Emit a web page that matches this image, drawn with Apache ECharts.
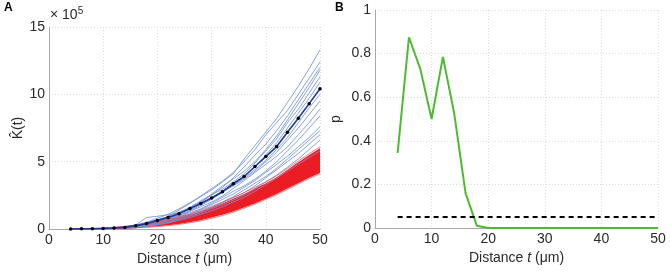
<!DOCTYPE html>
<html>
<head>
<meta charset="utf-8">
<script src="https://cdn.jsdelivr.net/npm/echarts@6/dist/echarts.min.js"></script>
<style>
  html, body { margin: 0; padding: 0; background: #fff; }
  #main { width: 670px; height: 273px; }
</style>
</head>
<body>
<div id="main"></div>
<script>
// ---------- 数据 ----------
// 距离 t (μm)
var distT = [4, 6, 8, 10, 12, 14, 16, 18, 20, 22, 24, 26, 28, 30, 32, 34, 36, 38, 40, 42, 44, 46, 48, 50];

// A: K(t) 平均线 (x 10^5)
var meanK = [0, 0.01, 0.02, 0.04, 0.07, 0.12, 0.25, 0.4, 0.64, 0.86, 1.14, 1.53, 1.9, 2.3, 2.77, 3.36, 3.9, 4.64, 5.38, 6.12, 7.19, 8.22, 9.31, 10.42];

// A: 各条蓝色曲线
var blueK1 = [0, 0.01, 0.02, 0.05, 0.09, 0.15, 0.3, 0.5, 0.8, 1.1, 1.5, 1.95, 2.4, 2.9, 3.5, 4.1, 5.2, 6.2, 7.2, 8.2, 9.4, 10.6, 11.9, 13.3];
var blueK2 = [0, 0.01, 0.02, 0.04, 0.07, 0.11, 0.2, 0.35, 0.6, 0.95, 1.4, 1.9, 2.45, 3.0, 3.55, 4.2, 5.0, 5.9, 7.0, 7.9, 8.8, 10.0, 11.2, 12.4];
var blueK3 = [0, 0.01, 0.03, 0.05, 0.08, 0.14, 0.25, 0.45, 0.7, 0.9, 1.2, 1.6, 2.0, 2.5, 3.1, 3.8, 4.6, 5.5, 6.3, 7.3, 8.4, 9.6, 10.8, 12.0];
var blueK4 = [0, 0.01, 0.02, 0.03, 0.06, 0.1, 0.15, 0.3, 0.55, 0.8, 1.15, 1.5, 1.95, 2.6, 3.2, 3.7, 4.3, 5.0, 5.9, 6.9, 8.1, 9.3, 10.5, 11.8];
var blueK5 = [0, 0.01, 0.02, 0.04, 0.08, 0.12, 0.2, 0.4, 0.65, 0.95, 1.25, 1.6, 2.1, 2.55, 2.95, 3.5, 4.1, 4.9, 5.8, 6.7, 7.9, 8.9, 10.1, 11.3];
var blueK6 = [0, 0.01, 0.02, 0.05, 0.12, 0.18, 0.3, 0.85, 0.95, 1.05, 1.2, 1.45, 1.85, 2.3, 2.8, 3.3, 3.9, 4.6, 5.5, 6.4, 7.5, 8.6, 9.7, 10.9];
var blueK7 = [0, 0.01, 0.02, 0.04, 0.06, 0.1, 0.2, 0.3, 0.5, 0.75, 1.0, 1.35, 1.75, 2.2, 2.7, 3.25, 3.8, 4.4, 5.1, 5.9, 6.8, 7.9, 9.0, 10.0];
var blueK8 = [0, 0.01, 0.02, 0.03, 0.05, 0.09, 0.15, 0.3, 0.55, 0.8, 1.05, 1.4, 1.85, 2.35, 2.8, 3.2, 3.7, 4.3, 5.0, 5.7, 6.6, 7.5, 8.5, 9.5];
var blueK9 = [0, 0.01, 0.03, 0.05, 0.09, 0.14, 0.2, 0.35, 0.5, 0.7, 0.95, 1.3, 1.65, 2.0, 2.45, 3.0, 3.6, 4.2, 4.8, 5.4, 6.1, 7.0, 7.9, 8.9];
var blueK10 = [0, 0.01, 0.02, 0.04, 0.06, 0.1, 0.15, 0.25, 0.45, 0.65, 0.9, 1.2, 1.5, 1.9, 2.35, 2.8, 3.2, 3.7, 4.3, 5.0, 5.8, 6.6, 7.5, 8.4];
var blueK11 = [0, 0.01, 0.02, 0.03, 0.05, 0.08, 0.1, 0.25, 0.4, 0.6, 0.85, 1.1, 1.45, 1.8, 2.2, 2.6, 3.1, 3.6, 4.2, 4.8, 5.4, 6.1, 6.8, 7.6];
var blueK12 = [0, 0.01, 0.02, 0.04, 0.07, 0.1, 0.15, 0.3, 0.45, 0.65, 0.85, 1.05, 1.3, 1.6, 2.0, 2.4, 2.9, 3.4, 3.9, 4.5, 5.2, 5.9, 6.6, 7.3];
var blueK13 = [0, 0.01, 0.02, 0.03, 0.05, 0.07, 0.1, 0.2, 0.35, 0.55, 0.75, 1.0, 1.3, 1.6, 1.95, 2.3, 2.7, 3.2, 3.8, 4.4, 5.0, 5.6, 6.3, 7.0];
var blueK14 = [0, 0.01, 0.02, 0.03, 0.05, 0.07, 0.1, 0.2, 0.35, 0.5, 0.7, 0.95, 1.2, 1.5, 1.8, 2.15, 2.55, 3.0, 3.5, 4.0, 4.6, 5.2, 5.9, 6.6];
var blueK15 = [0, 0.01, 0.02, 0.03, 0.04, 0.06, 0.1, 0.2, 0.3, 0.45, 0.65, 0.85, 1.1, 1.35, 1.65, 2.0, 2.35, 2.8, 3.3, 3.8, 4.3, 4.8, 5.3, 5.8];

// A: 红色模拟带 (下界 / 上界)
var redLow = [0, 0, 0.01, 0.02, 0.04, 0.07, 0.1, 0.14, 0.2, 0.28, 0.38, 0.5, 0.65, 0.85, 1.05, 1.3, 1.6, 1.9, 2.25, 2.6, 3.0, 3.4, 3.8, 4.15];
var redHigh = [0, 0.02, 0.04, 0.07, 0.12, 0.18, 0.26, 0.36, 0.5, 0.66, 0.84, 1.05, 1.3, 1.6, 1.9, 2.25, 2.6, 3.0, 3.4, 3.85, 4.4, 4.95, 5.5, 6.0];
// A: 红带边缘的几条线
var redK1 = [0, 0.02, 0.05, 0.08, 0.13, 0.2, 0.28, 0.4, 0.55, 0.7, 0.9, 1.1, 1.38, 1.68, 2.0, 2.35, 2.7, 3.1, 3.5, 3.95, 4.5, 5.05, 5.6, 6.1];
var redK2 = [0, 0, 0.01, 0.01, 0.03, 0.06, 0.09, 0.12, 0.18, 0.25, 0.34, 0.46, 0.6, 0.8, 1.0, 1.25, 1.55, 1.85, 2.2, 2.55, 2.95, 3.35, 3.75, 4.1];
var redK3 = [0, 0.01, 0.03, 0.06, 0.1, 0.15, 0.22, 0.32, 0.45, 0.6, 0.78, 0.98, 1.22, 1.5, 1.82, 2.15, 2.5, 2.95, 3.3, 3.75, 4.3, 4.85, 5.35, 5.85];

// B: p 值
var pValue = [0.345, 0.875, 0.73, 0.5, 0.785, 0.525, 0.16, 0.01, 0, 0, 0, 0, 0, 0, 0, 0, 0, 0, 0, 0, 0, 0, 0, 0];
var alphaLevel = 0.05;

// 坐标轴刻度
var xTicks = [0, 10, 20, 30, 40, 50];
var kTicks = [0, 5, 10, 15];
var pTicks = [0, 0.2, 0.4, 0.6, 0.8, 1];

// ---------- 图表 ----------
var chart = echarts.init(document.getElementById("main"), null, { renderer: "canvas" });

var fontName = "Liberation Sans";
var textColor = "#2a2a2a";

function pairs(ys) {
  var out = [];
  for (var i = 0; i < distT.length; i++) {
    out.push([distT[i], ys[i]]);
  }
  return out;
}

// x 轴 (两个面板共用的样式)
function makeXAxis(gridIndex) {
  return {
    type: "value",
    gridIndex: gridIndex,
    min: xTicks[0],
    max: xTicks[xTicks.length - 1],
    interval: xTicks[1] - xTicks[0],
    name: "Distance {i|t} (μm)",
    nameLocation: "middle",
    nameGap: 23,
    nameTextStyle: {
      fontFamily: fontName,
      fontSize: 14,
      color: textColor,
      rich: {
        i: { fontFamily: fontName, fontSize: 14, fontStyle: "italic", color: textColor },
      },
    },
    axisLine: { show: true, lineStyle: { color: "#a8a8a8", width: 1 } },
    axisTick: { show: false },
    axisLabel: { fontFamily: fontName, fontSize: 14, color: textColor, margin: 4 },
    splitLine: { show: true, lineStyle: { color: "#dcdcdc", type: [1, 2], width: 1 } },
  };
}

function makeYAxis(gridIndex, ticks, name, nameGap) {
  return {
    type: "value",
    gridIndex: gridIndex,
    min: ticks[0],
    max: ticks[ticks.length - 1],
    interval: ticks[1] - ticks[0],
    name: name,
    nameLocation: "middle",
    nameGap: nameGap,
    nameRotate: 90,
    nameTextStyle: { fontFamily: fontName, fontSize: 14, color: textColor },
    axisLine: { show: true, lineStyle: { color: "#a8a8a8", width: 1 } },
    axisTick: { show: false },
    axisLabel: { fontFamily: fontName, fontSize: 14, color: textColor, margin: 4 },
    splitLine: { show: true, lineStyle: { color: "#dcdcdc", type: [1, 2], width: 1 } },
  };
}

var series = [];

// 蓝色曲线
var blueList = [blueK1, blueK2, blueK3, blueK4, blueK5, blueK6, blueK7, blueK8, blueK9, blueK10, blueK11, blueK12, blueK13, blueK14, blueK15];
for (var b = 0; b < blueList.length; b++) {
  series.push({
    type: "line",
    xAxisIndex: 0,
    yAxisIndex: 0,
    data: pairs(blueList[b]),
    showSymbol: false,
    silent: true,
    lineStyle: { color: "#7390d6", width: 1, opacity: 0.85 },
  });
}

// 红色带: 用 custom 多边形画 (下界 -> 上界)
var bandData = [];
for (var r = 0; r < distT.length; r++) {
  bandData.push([distT[r], redLow[r], redHigh[r]]);
}
series.push({
  type: "custom",
  xAxisIndex: 0,
  yAxisIndex: 0,
  data: bandData,
  silent: true,
  clip: true,
  renderItem: function (params, api) {
    // 只在第一个数据项时画整条带
    if (params.dataIndex !== 0) return;
    var upper = [];
    var lower = [];
    for (var i = 0; i < bandData.length; i++) {
      upper.push(api.coord([bandData[i][0], bandData[i][2]]));
      lower.unshift(api.coord([bandData[i][0], bandData[i][1]]));
    }
    return {
      type: "polygon",
      shape: { points: upper.concat(lower) },
      style: { fill: "#ea1c24" },
    };
  },
});

// 红带边缘线
var redList = [redK1, redK2, redK3];
for (var k = 0; k < redList.length; k++) {
  series.push({
    type: "line",
    xAxisIndex: 0,
    yAxisIndex: 0,
    data: pairs(redList[k]),
    showSymbol: false,
    silent: true,
    lineStyle: { color: "#f0484e", width: 1, opacity: 0.7 },
  });
}

// 平均线 + 黑点
series.push({
  type: "line",
  xAxisIndex: 0,
  yAxisIndex: 0,
  data: pairs(meanK),
  symbol: "circle",
  symbolSize: 3.5,
  showSymbol: true,
  silent: true,
  lineStyle: { color: "#1c3a9a", width: 1.6 },
  itemStyle: { color: "#000" },
});

// B: p 值曲线
series.push({
  type: "line",
  xAxisIndex: 1,
  yAxisIndex: 1,
  data: pairs(pValue),
  showSymbol: false,
  silent: true,
  lineStyle: { color: "#4cbb32", width: 2 },
});

// B: 0.05 虚线
series.push({
  type: "line",
  xAxisIndex: 1,
  yAxisIndex: 1,
  data: [[distT[0], alphaLevel], [distT[distT.length - 1], alphaLevel]],
  showSymbol: false,
  silent: true,
  lineStyle: { color: "#000", width: 2, type: [5, 4] },
});

var option = {
  animation: false,
  backgroundColor: "#fff",
  grid: [
    { left: 49, right: 350, top: 27, bottom: 44 },
    { left: 375, right: 12, top: 10, bottom: 45 },
  ],
  xAxis: [makeXAxis(0), makeXAxis(1)],
  yAxis: [makeYAxis(0, kTicks, "K\u0302(t)", 22), makeYAxis(1, pTicks, "p", 32)],
  graphic: [
    {
      type: "text",
      left: 4,
      top: 2,
      style: { text: "A", font: "bold 12px " + fontName, fill: "#000" },
    },
    {
      type: "text",
      left: 335,
      top: 2,
      style: { text: "B", font: "bold 12px " + fontName, fill: "#000" },
    },
    {
      type: "text",
      left: 50,
      top: 6,
      style: {
        text: "× 10{s|5}",
        font: "14px " + fontName,
        fill: textColor,
        rich: {
          s: { fontFamily: fontName, fontSize: 10, fill: textColor, verticalAlign: "top", padding: [0, 0, 8, 0] },
        },
      },
    },
  ],
  series: series,
};

chart.setOption(option);
</script>
</body>
</html>
